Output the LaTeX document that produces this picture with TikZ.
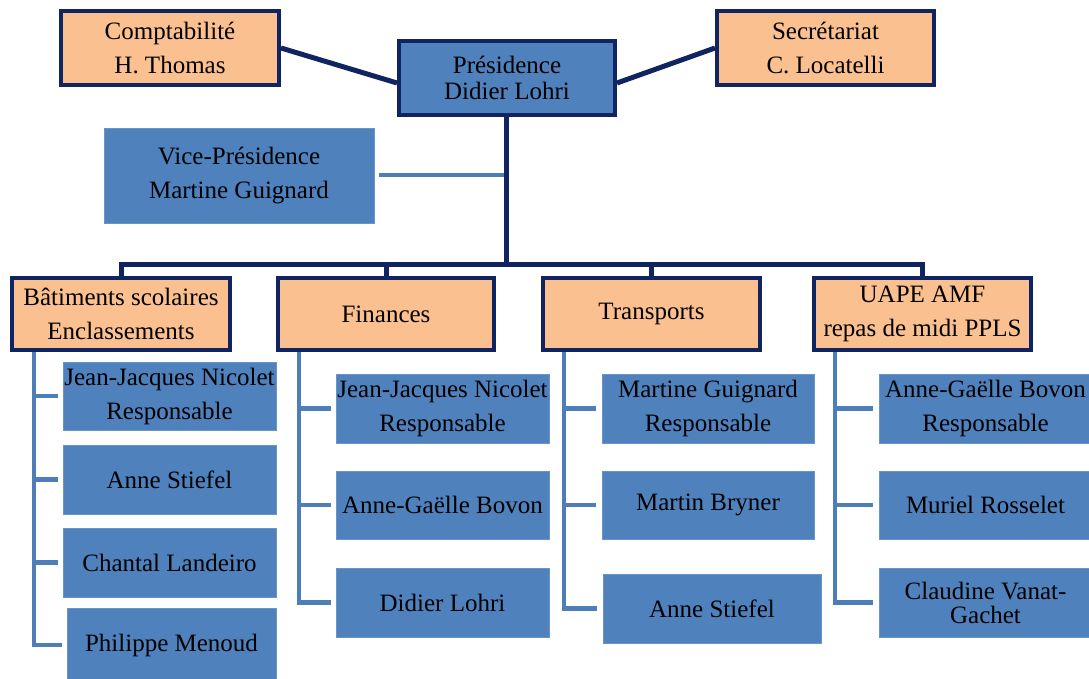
\documentclass[tikz,border=0pt]{standalone}
\usepackage{fontspec}
\setmainfont{Liberation Serif}
\definecolor{navy}{HTML}{0F2461}
\definecolor{orangefill}{HTML}{FAC090}
\definecolor{bluefill}{HTML}{4F81BD}
\definecolor{subline}{HTML}{4E7EBA}
\tikzset{
  txt/.style={font=\fontsize{25}{34}\selectfont, align=center, inner sep=0pt, text=black},
  obox/.style={txt, draw=navy, line width=4pt, fill=orangefill},
  pbox/.style={txt, draw=navy, line width=4pt, fill=bluefill, font=\fontsize{25}{26}\selectfont},
  bbox/.style={txt, draw=bluefill!85!white, line width=0.6pt, fill=bluefill},
  topline/.style={draw=navy, line width=5pt},
  subconn/.style={draw=subline, line width=4.5pt},
}
\begin{document}
\begin{tikzpicture}[x=1pt,y=-1pt]
\useasboundingbox (0,0) rectangle (1089,679);
\fill[white] (0,0) rectangle (1089,679);
% top row
\node[obox, minimum width=218pt, minimum height=74pt] (compta) at (170,48) {Comptabilité\\H. Thomas};
\node[pbox, minimum width=216pt, minimum height=74pt] (pres) at (507,78) {Présidence\\Didier Lohri};
\node[obox, minimum width=217pt, minimum height=74pt] (secr) at (825.5,48) {Secrétariat\\C. Locatelli};
\node[bbox, minimum width=270pt, minimum height=95pt] (vp) at (239,175.5) {Vice-Présidence\\Martine Guignard};
% departments
\node[obox, minimum width=218pt, minimum height=72pt] (bat) at (121,314) {Bâtiments scolaires\\Enclassements};
\node[obox, minimum width=216pt, minimum height=72pt] (fin) at (386,314) {Finances};
\node[obox, minimum width=217pt, minimum height=72pt] (trans) at (651.5,314) {Transports};
\node[obox, minimum width=217pt, minimum height=72pt] (uape) at (922.5,314) {UAPE AMF\\repas de midi PPLS};
% column 1
\node[bbox, minimum width=213pt, minimum height=68pt] (a1) at (169.5,396) {Jean-Jacques Nicolet\\Responsable};
\node[bbox, minimum width=213pt, minimum height=69pt] (a2) at (169.5,479.5) {Anne Stiefel};
\node[bbox, minimum width=213pt, minimum height=69pt] (a3) at (169.5,562.5) {Chantal Landeiro};
\node[bbox, minimum width=209pt, minimum height=74pt] (a4) at (171.5,645) {Philippe Menoud};
% column 2
\node[bbox, minimum width=213pt, minimum height=69pt] (f1) at (442.5,408.5) {Jean-Jacques Nicolet\\Responsable};
\node[bbox, minimum width=213pt, minimum height=68pt] (f2) at (442.5,505) {Anne-Gaëlle Bovon};
\node[bbox, minimum width=213pt, minimum height=69pt] (f3) at (442.5,602.5) {Didier Lohri};
% column 3
\node[bbox, minimum width=212pt, minimum height=69pt] (t1) at (708,408.5) {Martine Guignard\\Responsable};
\node[bbox, minimum width=212pt, minimum height=68pt] (t2) at (708,505) {Martin Bryner};
\node[bbox, minimum width=218pt, minimum height=69pt] (t3) at (712,608.5) {Anne Stiefel};
% column 4
\node[bbox, minimum width=213pt, minimum height=69pt] (u1) at (985.5,408.5) {Anne-Gaëlle Bovon\\Responsable};
\node[bbox, minimum width=213pt, minimum height=68pt] (u2) at (985.5,505) {Muriel Rosselet};
\node[bbox, minimum width=213pt, minimum height=69pt, font=\fontsize{25}{24}\selectfont] (u3) at (985.5,602.5) {Claudine Vanat-\\Gachet};
% top connectors
\draw[topline] (compta.east) -- ([yshift=-5pt]pres.west);
\draw[topline] (secr.west) -- ([yshift=-5pt]pres.east);
\coordinate (bus) at (506,264);
\draw[subconn, line width=4pt] ([xshift=5pt]vp.east) -- (vp.east -| bus);
\draw[topline] (pres.south -| bus) -- (bus);
\draw[topline] (bat.north) |- (bus) -| (uape.north);
\draw[topline] (fin.north) -- (fin.north |- bus);
\draw[topline] (trans.north) -- (trans.north |- bus);
% subordinate connectors
\coordinate (c1) at (34,352);
\draw[subconn] (c1) |- ([xshift=-5pt]a4.west);
\draw[subconn] (c1 |- a1.west) -- ([xshift=-5pt]a1.west);
\draw[subconn] (c1 |- a2.west) -- ([xshift=-5pt]a2.west);
\draw[subconn] (c1 |- a3.west) -- ([xshift=-5pt]a3.west);
\coordinate (c2) at (299,352);
\draw[subconn] (c2) |- ([xshift=-5pt]f3.west);
\draw[subconn] (c2 |- f1.west) -- ([xshift=-5pt]f1.west);
\draw[subconn] (c2 |- f2.west) -- ([xshift=-5pt]f2.west);
\coordinate (c3) at (564,352);
\draw[subconn] (c3) |- ([xshift=-6pt]t3.west);
\draw[subconn] (c3 |- t1.west) -- ([xshift=-6pt]t1.west);
\draw[subconn] (c3 |- t2.west) -- ([xshift=-6pt]t2.west);
\coordinate (c4) at (835,352);
\draw[subconn] (c4) |- ([xshift=-6pt]u3.west);
\draw[subconn] (c4 |- u1.west) -- ([xshift=-6pt]u1.west);
\draw[subconn] (c4 |- u2.west) -- ([xshift=-6pt]u2.west);
\end{tikzpicture}
\end{document}
